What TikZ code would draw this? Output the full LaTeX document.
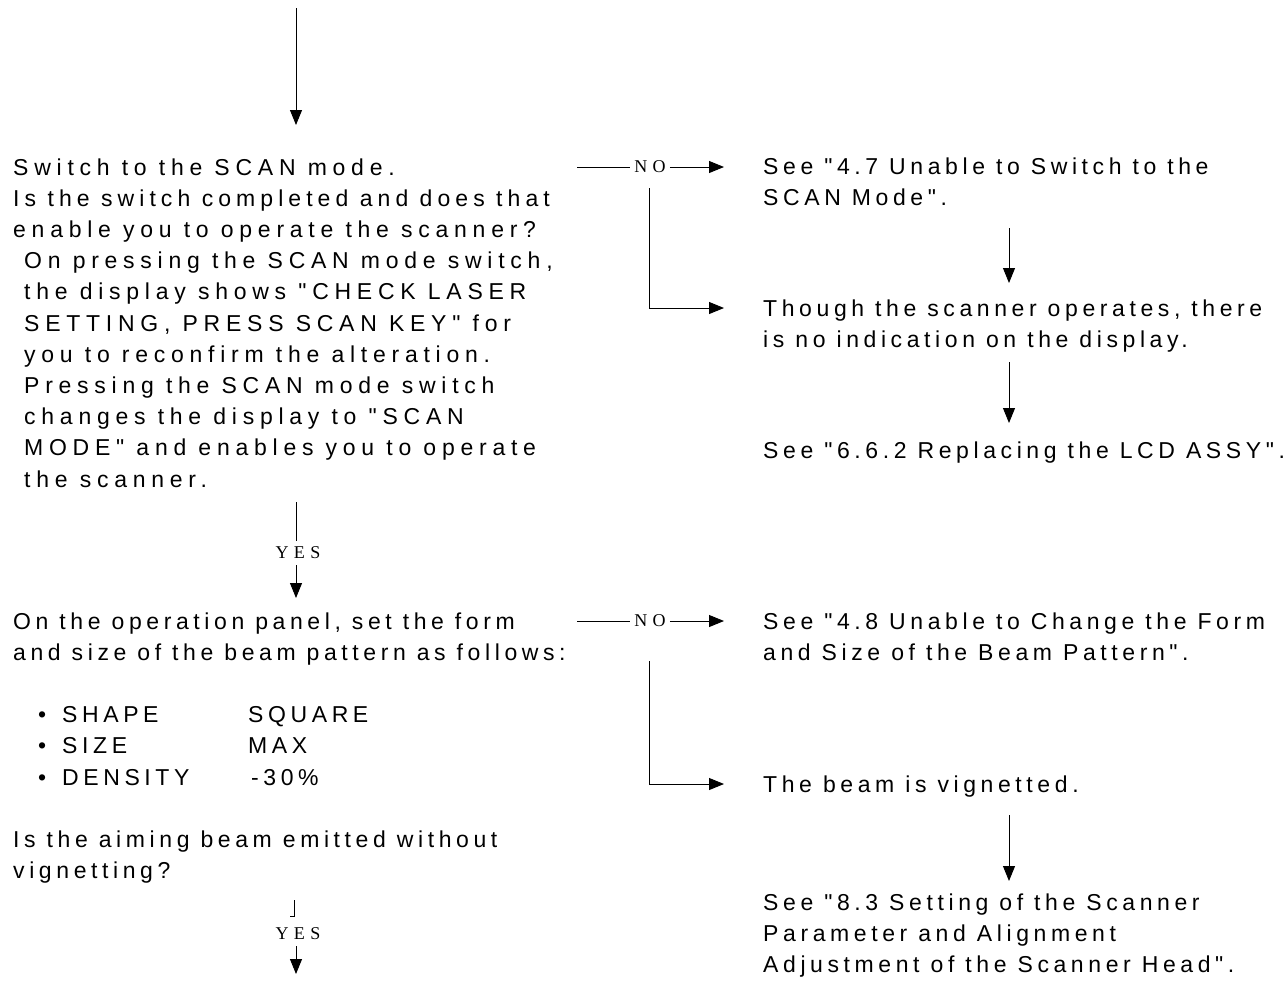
\documentclass[tikz,border=0pt]{standalone}
\usepackage{fontspec}
\font\bodyfont="Liberation Sans:letterspace=20" at 23pt
\font\widefont="Liberation Sans:letterspace=25" at 23pt
\font\midfont="Liberation Sans:letterspace=22" at 23pt
\font\lblfont="Liberation Serif:letterspace=30" at 18pt
\usetikzlibrary{arrows.meta}
\newcommand\tlines[1]{\vtop{\baselineskip=31.2pt\lineskiplimit=-100pt\halign{##\hfil\cr#1\crcr}}}
\begin{document}
\begin{tikzpicture}[x=1pt,y=-1pt,
  txt/.style={anchor=base west, inner sep=0pt, font=\bodyfont},
  wtxt/.style={txt, font=\widefont},
  lbl/.style={inner xsep=4pt, inner ysep=6pt, font=\lblfont},
  arr/.style={line width=0.9pt, draw=black, -{Triangle[length=15pt,width=12pt]}},
  ln/.style={line width=0.9pt, draw=black}]
\useasboundingbox (0,0) rectangle (1287,989);

% left blocks
\node[wtxt] (q1) at (13,175) {\tlines{%
Switch to the SCAN mode.\cr
{\midfont Is the switch completed and does that}\cr
enable you to operate the scanner?\cr
\hskip11pt On pressing the SCAN mode switch,\cr
\hskip11pt the display shows "CHECK LASER\cr
\hskip11pt SETTING, PRESS SCAN KEY" for\cr
\hskip11pt you to reconfirm the alteration.\cr
\hskip11pt Pressing the SCAN mode switch\cr
\hskip11pt changes the display to "SCAN\cr
\hskip11pt MODE" and enables you to operate\cr
\hskip11pt the scanner.}};

\node[txt] (q2) at (13,629) {\tlines{%
On the operation panel, set the form\cr
and size of the beam pattern as follows:\cr
\cr
\makebox[49pt][l]{\hskip25pt•}\makebox[186pt][l]{SHAPE}SQUARE\cr
\makebox[49pt][l]{\hskip25pt•}\makebox[186pt][l]{SIZE}MAX\cr
\makebox[49pt][l]{\hskip25pt•}\makebox[189pt][l]{DENSITY}-30\%\cr
\cr
Is the aiming beam emitted without\cr
vignetting?}};

% right blocks
\node[txt] (r1) at (763,174) {\tlines{See "4.7 Unable to Switch to the\cr SCAN Mode".}};
\node[txt] (r2) at (763,316) {\tlines{Though the scanner operates, there\cr is no indication on the display.}};
\node[txt] (r3) at (763,458) {\tlines{See "6.6.2 Replacing the LCD ASSY".}};
\node[txt] (r4) at (763,629) {\tlines{See "4.8 Unable to Change the Form\cr and Size of the Beam Pattern".}};
\node[txt] (r5) at (763,792) {\tlines{The beam is vignetted.}};
\node[txt] (r6) at (763,910) {\tlines{See "8.3 Setting of the Scanner\cr Parameter and Alignment\cr Adjustment of the Scanner Head".}};

% labels
\node[lbl] (no1) at (650,167) {NO};
\node[lbl] (no2) at (650,621) {NO};
\node[lbl] (yes1) at (298,553) {YES};
\node[lbl] (yes2) at (298,934) {YES};

% coordinates
\coordinate (t0) at (296,8);
\coordinate (t1) at (296,125);
\coordinate (y1a) at (296,502);
\coordinate (y1b) at (296,598);
\coordinate (y2a) at (294,900);
\coordinate (y2c) at (290,916);
\coordinate (y2b) at (296,974);
\coordinate (n1a) at (577,167);
\coordinate (n1b) at (724,167);
\coordinate (n1c) at (649,188);
\coordinate (n1d) at (724,308);
\coordinate (n2a) at (577,621);
\coordinate (n2b) at (724,621);
\coordinate (n2c) at (649,661);
\coordinate (n2d) at (724,784);
\coordinate (a1a) at (1009,228);
\coordinate (a1b) at (1009,283);
\coordinate (a2a) at (1009,362);
\coordinate (a2b) at (1009,423);
\coordinate (a3a) at (1009,815);
\coordinate (a3b) at (1009,881);

% connectors
\draw[arr] (t0) -- (t1);
\draw[ln] (y1a) -- (yes1.north -| y1a);
\draw[arr] (yes1.south -| y1b) -- (y1b);
\draw[ln] (y2a) |- (y2c);
\draw[arr] (yes2.south -| y2b) -- (y2b);
\draw[ln] (n1a) -- (no1.west);
\draw[arr] (no1.east) -- (n1b);
\draw[arr] (n1c) |- (n1d);
\draw[ln] (n2a) -- (no2.west);
\draw[arr] (no2.east) -- (n2b);
\draw[arr] (n2c) |- (n2d);
\draw[arr] (a1a) -- (a1b);
\draw[arr] (a2a) -- (a2b);
\draw[arr] (a3a) -- (a3b);
\end{tikzpicture}
\end{document}
